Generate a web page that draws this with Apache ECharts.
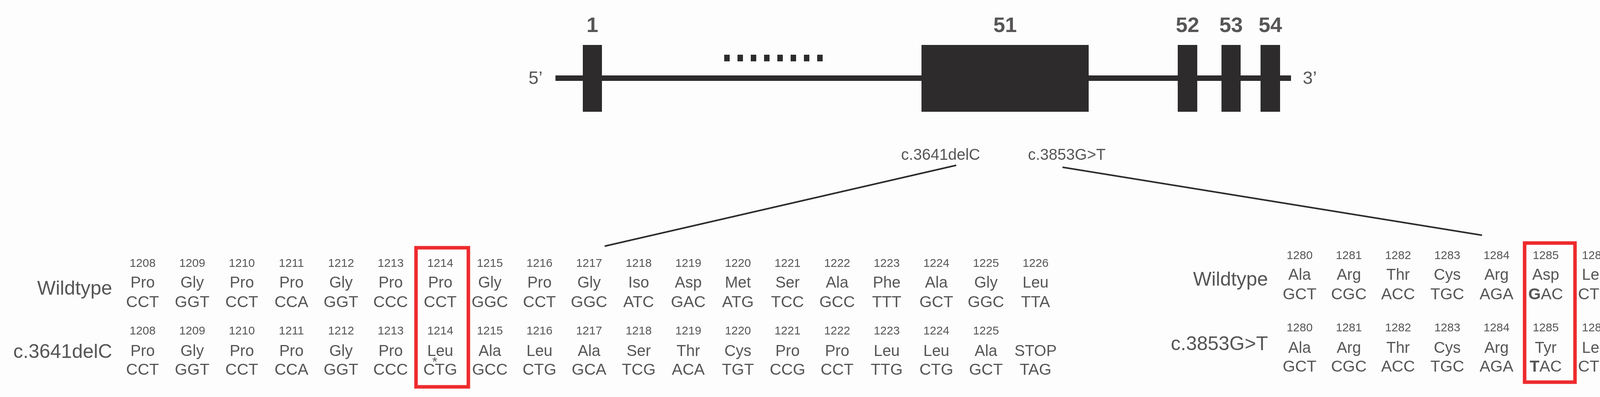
<!DOCTYPE html>
<html>
<head>
  <meta charset="utf-8">
  <title>Gene structure and variants</title>
  <script src="https://cdn.jsdelivr.net/npm/echarts@6/dist/echarts.min.js"></script>
  <style>html,body{margin:0;padding:0;background:#fdfdfd}</style>
</head>
<body>
  <div id="chart" style="width:4402px;height:1016px;"></div>
  <script>
    // exons: [name, x0, x1]
    const exons = [['1', 1492, 1541], ['51', 2359, 2787], ['52', 3015, 3065], ['53', 3127, 3176], ['54', 3227, 3277]];
    const variants = ['c.3641delC', 'c.3853G>T'];

    // left panel, c.3641delC
    const leftNum = ['1208','1209','1210','1211','1212','1213','1214','1215','1216','1217','1218','1219','1220','1221','1222','1223','1224','1225','1226'];
    const leftWtAa = ['Pro','Gly','Pro','Pro','Gly','Pro','Pro','Gly','Pro','Gly','Iso','Asp','Met','Ser','Ala','Phe','Ala','Gly','Leu'];
    const leftWtCodon = ['CCT','GGT','CCT','CCA','GGT','CCC','CCT','GGC','CCT','GGC','ATC','GAC','ATG','TCC','GCC','TTT','GCT','GGC','TTA'];
    const leftMutNum = ['1208','1209','1210','1211','1212','1213','1214','1215','1216','1217','1218','1219','1220','1221','1222','1223','1224','1225',''];
    const leftMutAa = ['Pro','Gly','Pro','Pro','Gly','Pro','Leu','Ala','Leu','Ala','Ser','Thr','Cys','Pro','Pro','Leu','Leu','Ala','STOP'];
    const leftMutCodon = ['CCT','GGT','CCT','CCA','GGT','CCC','CTG','GCC','CTG','GCA','TCG','ACA','TGT','CCG','CCT','TTG','CTG','GCT','TAG'];

    // right panel, c.3853G>T
    const rightNum = ['1280','1281','1282','1283','1284','1285','1286','1287','1288'];
    const rightWtAa = ['Ala','Arg','Thr','Cys','Arg','Asp','Leu','Lys','Leu'];
    const rightWtCodon = ['GCT','CGC','ACC','TGC','AGA','{b|G}AC','CTG','AAA','CTC'];
    const rightMutAa = ['Ala','Arg','Thr','Cys','Arg','Tyr','Leu','Lys','Leu'];
    const rightMutCodon = ['GCT','CGC','ACC','TGC','AGA','{b|T}AC','CTG','AAA','CTC'];

    // layout
    const LX0 = 365, LSTEP = 127, RX0 = 3327, RSTEP = 126;
    const FONT = '"Liberation Sans", Arial, sans-serif';
    const INK = '#2d2b2c';

    const texts = [];
    function t(x, y, s, size, opts) {
      const label = { show: true, position: 'inside', formatter: s, fontSize: size, color: INK, fontFamily: FONT, align: 'center', verticalAlign: 'middle' };
      if (opts) Object.assign(label, opts);
      texts.push({ value: [x, y], label: label });
    }
    exons.forEach(e => t((e[1] + e[2]) / 2, 67, e[0], 54, { fontWeight: 'bold' }));
    t(1371, 202, '5\u2019', 46);
    t(3353, 202, '3\u2019', 46);
    t(2408, 398, variants[0], 40);
    t(2731, 398, variants[1], 40);

    t(287, 740, 'Wildtype', 50, { align: 'right' });
    t(287, 902, variants[0], 50, { align: 'right' });
    leftNum.forEach((v, i) => {
      const x = LX0 + LSTEP * i;
      t(x, 675, v, 30); t(x, 725, leftWtAa[i], 40); t(x, 775, leftWtCodon[i], 41);
      t(x, 848, leftMutNum[i], 30); t(x, 900, leftMutAa[i], 40); t(x, 948, leftMutCodon[i], 41);
    });
    t(LX0 + LSTEP * 6 - 14, 928, '*', 34);

    t(3246, 717, 'Wildtype', 50, { align: 'right' });
    t(3246, 882, variants[1], 50, { align: 'right' });
    const rich = { b: { fontWeight: 'bold', fontSize: 41, color: INK, fontFamily: FONT } };
    rightNum.forEach((v, i) => {
      const x = RX0 + RSTEP * i;
      t(x, 655, v, 30); t(x, 705, rightWtAa[i], 40); t(x, 755, rightWtCodon[i], 41, { rich: rich });
      t(x, 840, v, 30); t(x, 892, rightMutAa[i], 40); t(x, 940, rightMutCodon[i], 41, { rich: rich });
    });

    const boxes = [[LX0 + LSTEP * 6 - 62, LX0 + LSTEP * 6 + 72, 634, 990], [3903, 4032, 622, 978]];
    const dashes = [0, 1, 2, 3, 4, 5, 6, 7].map(i => [1854 + 34 * i, 140, 157]);

    const chart = echarts.init(document.getElementById('chart'));
    chart.setOption({
      backgroundColor: '#fdfdfd',
      animation: false,
      grid: { left: 0, right: 0, top: 0, bottom: 0 },
      xAxis: { type: 'value', min: 0, max: 4402, show: false },
      yAxis: { type: 'value', min: 0, max: 1016, inverse: true, show: false },
      series: [
        { type: 'line', data: [[1422, 200], [3305, 200]], symbol: 'none', lineStyle: { color: INK, width: 14 } },
        { type: 'line', data: [[2448, 423], [1548, 630]], symbol: 'none', lineStyle: { color: INK, width: 4 } },
        { type: 'line', data: [[2720, 428], [3794, 602]], symbol: 'none', lineStyle: { color: INK, width: 4 } },
        {
          type: 'custom', data: exons.map(e => [e[1], e[2]]),
          renderItem: (p, api) => {
            const a = api.coord([api.value(0), 115]), b = api.coord([api.value(1), 286]);
            return { type: 'rect', shape: { x: a[0], y: a[1], width: b[0] - a[0], height: b[1] - a[1] }, style: { fill: INK } };
          }
        },
        {
          type: 'custom', data: dashes,
          renderItem: (p, api) => {
            const a = api.coord([api.value(0), api.value(1)]), b = api.coord([api.value(0) + 14, api.value(2)]);
            return { type: 'rect', shape: { x: a[0], y: a[1], width: b[0] - a[0], height: b[1] - a[1] }, style: { fill: INK } };
          }
        },
        {
          type: 'custom', data: boxes,
          renderItem: (p, api) => {
            const a = api.coord([api.value(0), api.value(2)]), b = api.coord([api.value(1), api.value(3)]);
            return { type: 'rect', shape: { x: a[0], y: a[1], width: b[0] - a[0], height: b[1] - a[1] }, style: { fill: 'none', stroke: '#ee2a2d', lineWidth: 9 } };
          }
        },
        { type: 'scatter', symbolSize: 0, data: texts, z: 5 }
      ]
    });
  </script>
</body>
</html>
